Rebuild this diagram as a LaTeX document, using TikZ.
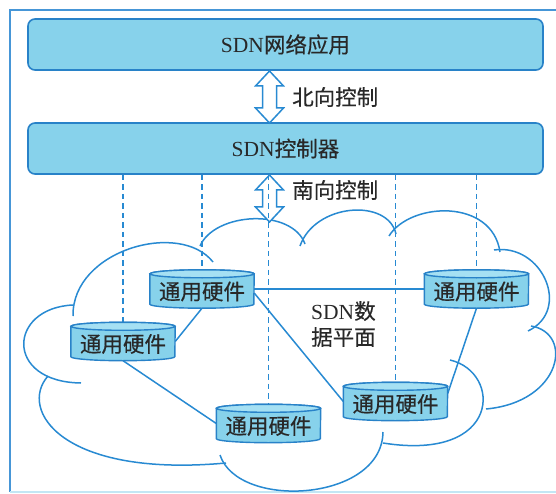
\documentclass[tikz,border=0pt]{standalone}
\usepackage{fontspec}
\setmainfont{Liberation Serif}
\newfontfamily\cjk[FakeBold=0.4]{Noto Sans CJK SC}
\usetikzlibrary{calc}
\definecolor{boxfill}{RGB}{135,210,235}
\definecolor{boxtop}{RGB}{165,224,243}
\definecolor{boxline}{RGB}{40,130,200}
\definecolor{netline}{RGB}{40,138,210}
\definecolor{txt}{RGB}{40,40,40}
\definecolor{framec}{RGB}{70,150,215}
\definecolor{framelight}{RGB}{195,230,244}
\newcommand\hwcyl[3]{%
  \node[hwslot] (#1) at (#2,#3) {};
  \path[fill=boxfill, draw=boxline, line width=1.4pt]
    ($(#1.north west)+(0,4)$) -- ($(#1.south west)+(0,-4)$)
    arc[start angle=180, end angle=360, x radius=52pt, y radius=4pt]
    -- ($(#1.north east)+(0,4)$)
    arc[start angle=0, end angle=180, x radius=52pt, y radius=4pt] -- cycle;
  \path[fill=boxtop, draw=boxline, line width=1.4pt] ($(#1.north)+(0,4)$) ellipse[x radius=52pt, y radius=4pt];
  \node[hwtext] at ($(#1.center)+(0,2.5)$) {通用硬件};
}
\begin{document}
\begin{tikzpicture}[x=1pt,y=-1pt,
  layerbox/.style={draw=boxline, fill=boxfill, line width=1.6pt, rounded corners=7pt,
    minimum width=515pt, minimum height=51pt, inner sep=0pt, text=txt,
    font=\fontsize{21.5}{24}\selectfont},
  hwslot/.style={minimum width=104pt, minimum height=38pt, inner sep=0pt},
  hwtext/.style={text=txt, inner sep=0pt, font=\fontsize{21.5}{24}\selectfont\cjk},
  link/.style={draw=netline, line width=1.5pt},
  vlink/.style={draw=netline, line width=1.4pt, dash pattern=on 5.5pt off 4pt},
  cloudline/.style={draw=netline, line width=1.5pt},
  hollowarrow/.style={draw=netline, line width=1.5pt, fill=white, line join=miter},
  lbl/.style={text=txt, font=\fontsize{21.5}{26}\selectfont\cjk, inner sep=0pt, anchor=west}
]
\useasboundingbox (0,0) rectangle (556,494);
\fill[white] (0,0) rectangle (556,494);
% frame
\draw[framec, line width=1.4pt] (10,492) -- (10,10) -- (556,10);
\draw[framelight, line width=1.2pt] (10,492) -- (556,492);

% layers
\node[layerbox] (app) at (285.5,44.5) {SDN{\cjk 网络应用}};
\node[layerbox] (ctrl) at (285.5,148.5) {SDN{\cjk 控制器}};

% cloud
\draw[cloudline] (73,316) .. controls (72,250) and (180,220) .. (213,262);
\draw[cloudline] (200,246) .. controls (215,212) and (292,208) .. (305,244);
\draw[cloudline] (300,246) .. controls (315,203) and (388,198) .. (396,234);
\draw[cloudline] (389,236) .. controls (410,202) and (492,198) .. (500,252);
\draw[cloudline] (494,250) .. controls (542,243) and (572,310) .. (528,331);
\draw[cloudline] (531,326) .. controls (574,333) and (562,402) .. (486,409);
\draw[cloudline] (450,360) .. controls (502,372) and (502,462) .. (383,443);
\draw[cloudline] (383,432) .. controls (382,502) and (238,510) .. (220,455);
\draw[cloudline] (48,376) .. controls (18,410) and (62,478) .. (226,463);
\draw[cloudline] (73,305) .. controls (8,308) and (4,382) .. (81,383);

% data plane label
\node[lbl, align=left] (dp) at (311,324) {{\rmfamily SDN}数\\据平面};

% cylinder anchors (invisible) for links
\node[hwslot] (c1p) at (202,289) {};
\node[hwslot] (c2p) at (476.5,289) {};
\node[hwslot] (c3p) at (123,341.5) {};
\node[hwslot] (c4p) at (395.5,401.5) {};
\node[hwslot] (c5p) at (268.5,423.5) {};

% dashed control links
\draw[vlink] (c3p.north |- ctrl.south) -- (c3p.north);
\draw[vlink] (c1p.north |- ctrl.south) -- (c1p.north);
\draw[vlink] (c4p.north |- ctrl.south) -- (c4p.north);
\draw[vlink] (c2p.north |- ctrl.south) -- (c2p.north);

% arrows
\path[hollowarrow] (269.5,71) -- (283.5,86) -- (276.5,86) -- (276.5,108) -- (283.5,108)
  -- (269.5,123) -- (255.5,108) -- (262.5,108) -- (262.5,86) -- (255.5,86) -- cycle;
\path[hollowarrow] (269.5,175) -- (283.5,190) -- (276.5,190) -- (276.5,207) -- (283.5,207)
  -- (269.5,222) -- (255.5,207) -- (262.5,207) -- (262.5,190) -- (255.5,190) -- cycle;
\node[lbl] (nb) at (292,97) {北向控制};
\node[lbl] (sb) at (292,190) {南向控制};
\draw[vlink] (c5p.north |- ctrl.south) -- (c5p.north);

% data links
\draw[link] (c1p.east) -- (c2p.west);
\draw[link] ($(c1p.east)+(0,4)$) -- (c4p.west);
\draw[link] (c1p.south) -- (c3p.east);
\draw[link] (c3p.south) -- (c5p.west);
\draw[link] (c2p.south) -- ($(c4p.east)+(0,-8)$);

% cylinders
\hwcyl{c1}{202}{289}
\hwcyl{c2}{476.5}{289}
\hwcyl{c3}{123}{341.5}
\hwcyl{c4}{395.5}{401.5}
\hwcyl{c5}{268.5}{423.5}
\end{tikzpicture}
\end{document}
